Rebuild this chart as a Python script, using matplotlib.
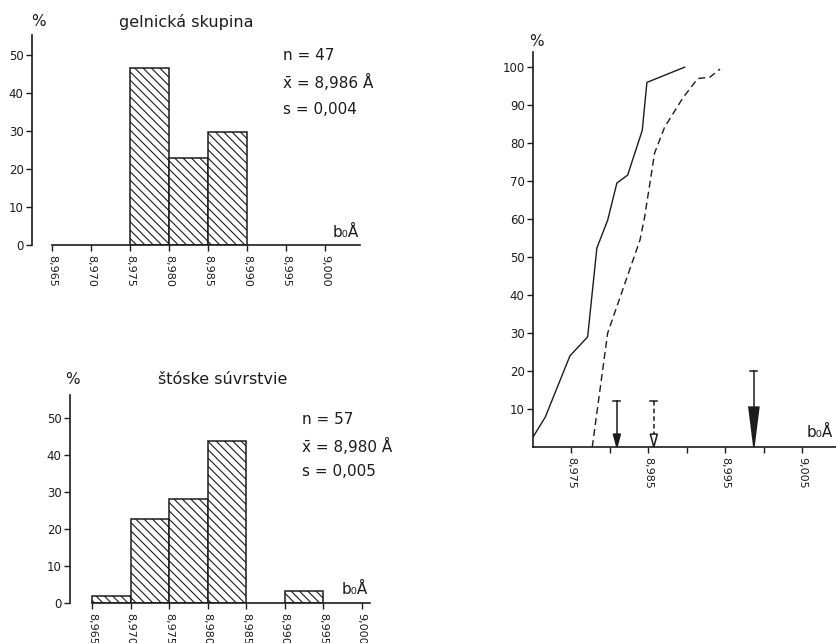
import numpy as np
import matplotlib.pyplot as plt

plt.rcParams['font.family'] = ['DejaVu Sans']
plt.rcParams['hatch.linewidth'] = 0.8

INK = '#1c1c1c'
W, H = 837, 643

# histogram 1: gelnická skupina (bin left edges, %)
gel_left = [8.975, 8.980, 8.985]
gel_pct = [46.5, 23.0, 29.8]
gel_stats = ['n = 47', 'x\u0304 = 8,986 Å', 's = 0,004']

# histogram 2: štóske súvrstvie
sto_left = [8.965, 8.970, 8.975, 8.980, 8.990]
sto_pct = [1.8, 22.8, 28.1, 43.9, 3.3]
sto_stats = ['n = 57', 'x\u0304 = 8,980 Å', 's = 0,005']

bin_width = 0.005
hist_ticks = [8.965, 8.970, 8.975, 8.980, 8.985, 8.990, 8.995, 9.000]
hist_labels = ['8,965', '8,970', '8,975', '8,980', '8,985', '8,990', '8,995', '9,000']

# cumulative curves
solid_x = [8.9700, 8.9716, 8.9748, 8.9771, 8.9783, 8.9797, 8.9809, 8.9823, 8.9842, 8.9848, 8.9897]
solid_y = [2.6, 7.9, 24.0, 29.0, 52.4, 59.7, 69.5, 71.6, 83.4, 96.0, 100.0]
dashed_x = [8.9777, 8.9797, 8.9839, 8.9845, 8.9858, 8.9871, 8.9895, 8.9914, 8.9930, 8.9943]
dashed_y = [0.0, 30.0, 54.5, 60.5, 77.4, 84.2, 92.0, 97.0, 97.4, 99.5]
cum_ticks = [8.975, 8.985, 8.995, 9.005]
cum_labels = ['8,975', '8,985', '8,995', '9,005']
cum_minor = [8.980, 8.990, 9.000]

# arrows (x position, top of shaft, head height)
arrow_x = [8.9809, 8.9857, 8.9987]
arrow_top = [12, 12, 20]
arrow_head = [3.4, 3.4, 10.5]

fig = plt.figure(figsize=(W / 100, H / 100), dpi=100)


def px_axes(left, top, right, bottom):
    return fig.add_axes([left / W, 1 - bottom / H, (right - left) / W, (bottom - top) / H])


def px_text(x, y, s, **kw):
    fig.text(x / W, 1 - y / H, s, color=INK, **kw)


def style_axes(ax, xlim, ylim, xstart):
    ax.set_xlim(*xlim)
    ax.set_ylim(*ylim)
    for side in ['top', 'right']:
        ax.spines[side].set_visible(False)
    for side in ['left', 'bottom']:
        ax.spines[side].set_color(INK)
        ax.spines[side].set_linewidth(1.2)
    ax.spines['bottom'].set_bounds(xstart, xlim[1])
    ax.spines['left'].set_bounds(0, ylim[1])
    ax.tick_params(axis='both', which='both', direction='out', length=4, width=1,
                   color=INK, labelcolor=INK, labelsize=8.5, pad=2)
    ax.tick_params(axis='x', pad=3)
    ax.patch.set_alpha(0)


def hist_panel(rect, xlim, ylim, left, pct):
    ax = px_axes(*rect)
    style_axes(ax, xlim, ylim, hist_ticks[0])
    ax.bar(left, pct, width=bin_width, align='edge', facecolor='white',
           edgecolor=INK, hatch='\\\\\\\\', linewidth=1.1)
    ax.set_yticks([0, 10, 20, 30, 40, 50])
    ax.set_xticks(hist_ticks)
    ax.set_xticklabels(hist_labels, rotation=270, fontsize=8)
    return ax


# top-left histogram
ax1 = hist_panel((32, 35, 360, 245), (8.96244, 9.00449), (0, 55.3), gel_left, gel_pct)
ax1.text(0.958, 0.022, 'b₀Å', transform=ax1.transAxes, ha='center', va='bottom',
         fontsize=11, color=INK)
px_text(38, 22, '%', ha='center', va='center', fontsize=11)
px_text(186, 22, 'gelnická skupina', ha='center', va='center', fontsize=11.5)
for i, s in enumerate(gel_stats):
    px_text(283, 55 + 27.5 * i, s, ha='left', va='center', fontsize=11)

# bottom-left histogram
ax2 = hist_panel((70, 395, 370, 603), (8.96214, 9.0011), (0, 56.2), sto_left, sto_pct)
ax2.text(0.95, 0.028, 'b₀Å', transform=ax2.transAxes, ha='center', va='bottom',
         fontsize=11, color=INK)
px_text(72, 380, '%', ha='center', va='center', fontsize=11)
px_text(223, 380, 'štóske súvrstvie', ha='center', va='center', fontsize=11.5)
for i, s in enumerate(sto_stats):
    px_text(302, 420 + 26 * i, s, ha='left', va='center', fontsize=11)

# right: cumulative curves
ax3 = px_axes(533, 52, 837, 447)
style_axes(ax3, (8.970, 9.0095), (0, 104), 8.970)
ax3.plot(solid_x, solid_y, color=INK, lw=1.0)
ax3.plot(dashed_x, dashed_y, color=INK, lw=1.0, ls=(0, (5, 3)))
ax3.set_yticks([10, 20, 30, 40, 50, 60, 70, 80, 90, 100])
ax3.set_xticks(cum_ticks)
ax3.set_xticklabels(cum_labels, rotation=270, fontsize=8)
ax3.set_xticks(cum_minor, minor=True)
ax3.text(0.944, 0.018, 'b₀Å', transform=ax3.transAxes, ha='center', va='bottom',
         fontsize=11, color=INK)
px_text(536, 42, '%', ha='center', va='center', fontsize=11)

# arrows: solid, dashed open, big solid
cap_w = 0.0009
styles = [('solid', INK, 0.0009), ((0, (3, 2)), 'white', 0.0009), ('solid', INK, 0.0013)]
for x, top, hh, (ls, fc, hw) in zip(arrow_x, arrow_top, arrow_head, styles):
    ax3.plot([x - cap_w / 2, x + cap_w / 2], [top, top], color=INK, lw=1.1)
    ax3.plot([x, x], [top, hh], color=INK, lw=1.1, ls=ls)
    ax3.fill([x - hw / 2, x + hw / 2, x], [hh, hh, 0], facecolor=fc, edgecolor=INK,
             lw=1.1, clip_on=False)

fig.savefig('out.png', dpi=100, facecolor='white')
